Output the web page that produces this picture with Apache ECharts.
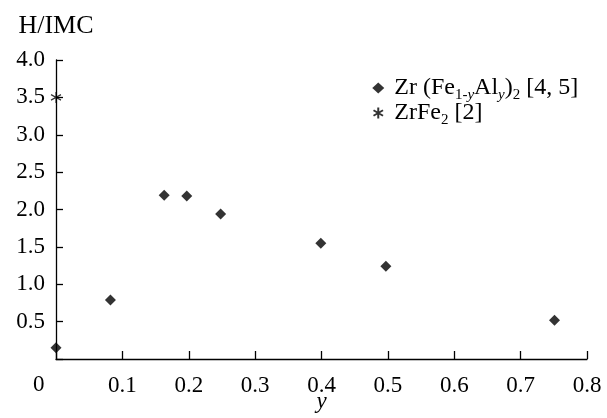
<!DOCTYPE html>
<html>
<head>
<meta charset="utf-8">
<script src="https://cdn.jsdelivr.net/npm/echarts@6/dist/echarts.min.js"></script>
<style>html,body{margin:0;padding:0;background:#fff}#c{width:607px;height:418px}</style>
</head>
<body>
<div id="c"></div>
<script>
// Data
const seriesNames = ['Zr (Fe1-yAly)2 [4, 5]', 'ZrFe2 [2]'];
const alloyY = [0, 0.082, 0.163, 0.197, 0.248, 0.399, 0.497, 0.751];
const alloyH = [0.15, 0.79, 2.19, 2.18, 1.94, 1.55, 1.24, 0.52];
const zrfe2Y = [0];
const zrfe2H = [3.5];
const xTicks = [0, 0.1, 0.2, 0.3, 0.4, 0.5, 0.6, 0.7, 0.8];
const yTicks = [0, 0.5, 1.0, 1.5, 2.0, 2.5, 3.0, 3.5, 4.0];
const xTitle = 'y';
const yTitle = 'H/IMC';

const FONT = 'Liberation Serif';
const INK = '#000';
const starPath = 'path://M5,0L5,10M0.67,2.5L9.33,7.5M0.67,7.5L9.33,2.5';

const chart = echarts.init(document.getElementById('c'), null, {renderer: 'canvas'});
const legendRich = {
  a: {fontFamily: FONT, fontSize: 24, color: INK, lineHeight: 24, verticalAlign: 'middle'},
  s: {fontFamily: FONT, fontSize: 15, color: INK, lineHeight: 30, verticalAlign: 'bottom'},
  si: {fontFamily: FONT, fontSize: 15, fontStyle: 'italic', color: INK, lineHeight: 30, verticalAlign: 'bottom'}
};
chart.setOption({
  animation: false,
  backgroundColor: '#fff',
  grid: {left: 56, right: 20, top: 60, bottom: 59, containLabel: false, outerBoundsMode: 'none'},
  legend: {
    orient: 'vertical',
    left: 366,
    top: 71,
    itemWidth: 12,
    itemHeight: 11,
    itemGap: -2,
    data: [
      {name: seriesNames[0], icon: 'diamond'},
      {name: seriesNames[1], icon: starPath}
    ],
    formatter: function (n) {
      if (n === seriesNames[0]) return '{a|Zr (Fe}{s|1-}{si|y}{a|Al}{si|y}{a|)}{s|2}{a| [4, 5]}';
      return '{a|ZrFe}{s|2}{a| [2]}';
    },
    textStyle: {fontFamily: FONT, fontSize: 24, color: INK, padding: [0, 0, 0, 5], rich: legendRich}
  },
  xAxis: {
    type: 'value', min: xTicks[0], max: xTicks[xTicks.length - 1], interval: 0.1,
    name: xTitle, nameLocation: 'middle', nameGap: 31, nameMoveOverlap: false,
    nameTextStyle: {fontFamily: FONT, fontSize: 23, fontStyle: 'italic', color: INK},
    axisLine: {show: true, onZero: false, lineStyle: {color: INK, width: 1.3}},
    axisTick: {show: true, inside: true, length: 8, lineStyle: {color: INK, width: 1.3}},
    axisLabel: {fontFamily: FONT, fontSize: 23, color: INK, margin: 15,
      formatter: v => (Math.abs(v) < 1e-9 ? '' : v.toFixed(1))},
    splitLine: {show: false}
  },
  yAxis: {
    type: 'value', min: yTicks[0], max: yTicks[yTicks.length - 1], interval: 0.5,
    name: yTitle, nameLocation: 'end', nameGap: 21,
    nameTextStyle: {fontFamily: FONT, fontSize: 26, color: INK, align: 'center'},
    axisLine: {show: true, onZero: false, lineStyle: {color: INK, width: 1.3}},
    axisTick: {show: true, inside: true, length: 7, lineStyle: {color: INK, width: 1.3}},
    axisLabel: {fontFamily: FONT, fontSize: 23, color: INK, margin: 11,
      formatter: v => (Math.abs(v) < 1e-9 ? '' : v.toFixed(1))},
    splitLine: {show: false}
  },
  graphic: [
    {type: 'text', left: 33, top: 373, style: {text: String(xTicks[0]), fontFamily: FONT, fontSize: 23, fill: INK}}
  ],
  series: [
    {
      name: seriesNames[0], type: 'scatter', symbol: 'diamond', symbolSize: 11,
      itemStyle: {color: INK},
      data: alloyY.map((x, i) => [x, alloyH[i]]),
      z: 3
    },
    {
      name: seriesNames[1], type: 'scatter', symbol: starPath, symbolSize: [10, 11],
      itemStyle: {color: 'none', borderColor: INK, borderWidth: 1.2},
      data: zrfe2Y.map((x, i) => [x, zrfe2H[i]]),
      z: 4
    }
  ]
});
</script>
</body>
</html>
